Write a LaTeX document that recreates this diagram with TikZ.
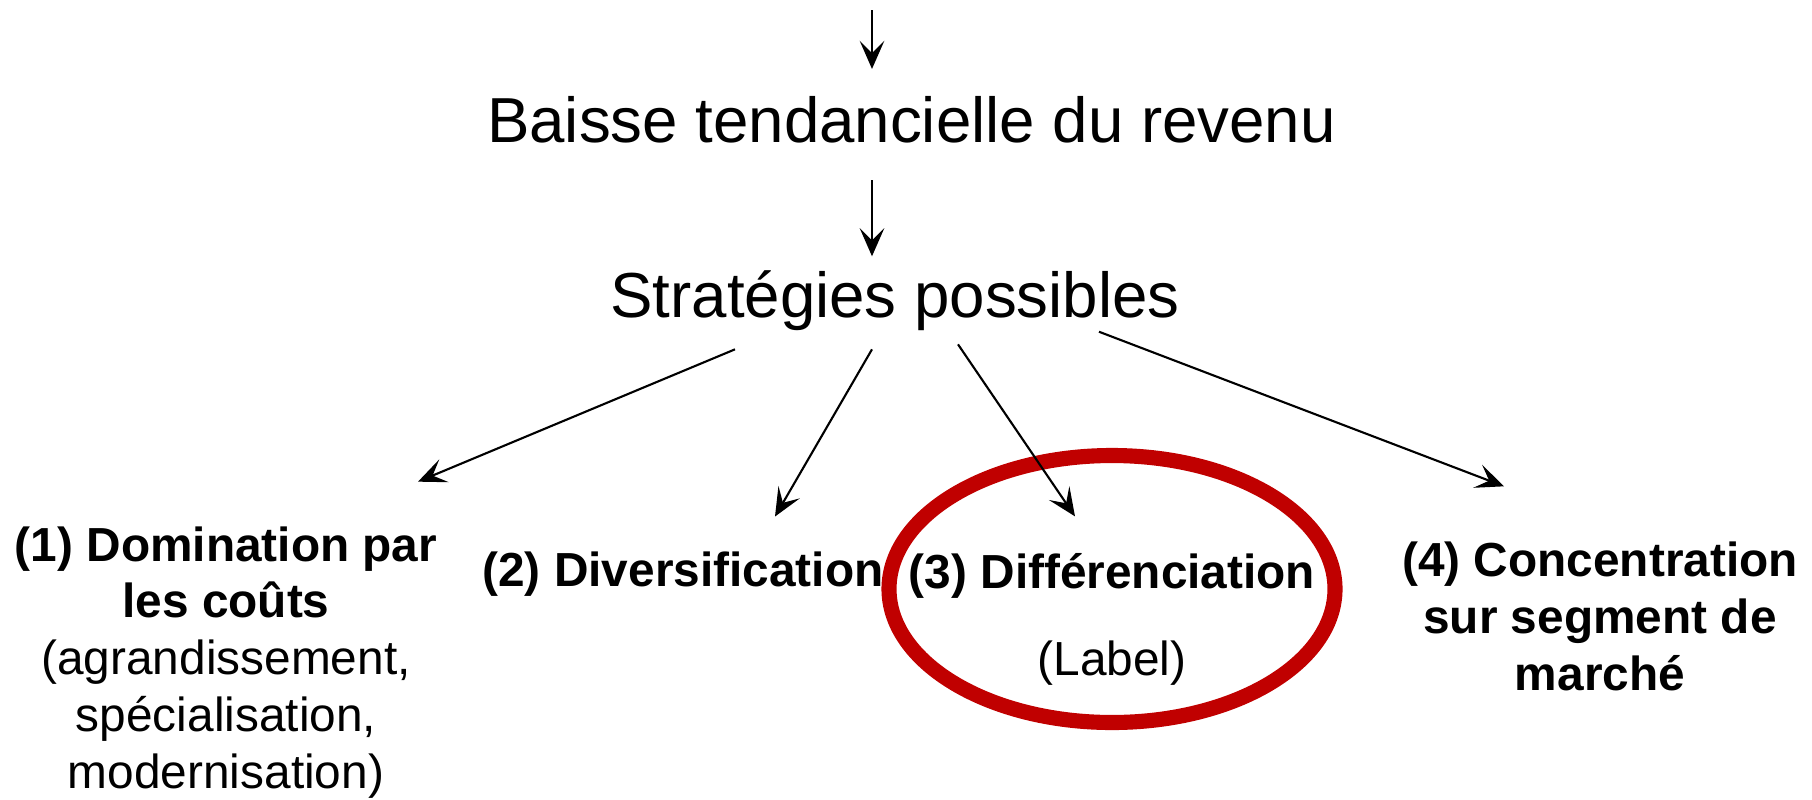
\documentclass[tikz,border=0pt]{standalone}
\usepackage{fontspec}
\setmainfont{Liberation Sans}
\usetikzlibrary{arrows.meta,positioning}
\definecolor{ringred}{RGB}{192,0,0}
\begin{document}
\begin{tikzpicture}[
  title/.style={inner sep=0pt, font=\fontsize{18.1}{21.7}\selectfont},
  choice/.style={inner sep=0pt, align=center, font=\fontsize{13.6}{16.2}\selectfont},
  arr/.style={-{Stealth[length=8pt,width=7pt,inset=3.5pt]}, line width=0.6pt},
  ring/.style={draw=ringred, line width=4.3pt},
  node distance=1.81cm
]
\useasboundingbox (0,0) rectangle (18.12,-7.99);

\node[title] (baisse) at (9.115,-1.20) {Baisse tendancielle du revenu};
\node[title, below of=baisse, xshift=-0.165cm] (strat) {Stratégies possibles};
\coordinate[above of=baisse, node distance=1.1cm, xshift=-0.395cm] (top);

\node[choice, below of=strat, node distance=2.735cm, xshift=-2.12cm] (div) {\textbf{(2) Diversification}};
\node[choice, left of=div, node distance=4.57cm, yshift=-0.88cm] (dom) {\textbf{(1) Domination par}\\\textbf{les coûts}\\(agrandissement,\\spécialisation,\\modernisation)};
\node[choice, right of=div, node distance=4.29cm, yshift=-0.445cm] (diff) {\textbf{(3) Différenciation}\\[0.3cm](Label)};
\node[choice, right of=diff, node distance=4.88cm, yshift=0.025cm] (conc) {\textbf{(4) Concentration}\\\textbf{sur segment de}\\\textbf{marché}};

% Highlight
\draw[ring] ([yshift=0.3cm]diff.center) ellipse [x radius=2.23cm, y radius=1.335cm];

% Arrows
\draw[arr, shorten >=0.27cm] (top) -- (top |- baisse.north);
\draw[arr, shorten <=0.36cm, shorten >=0.14cm] (top |- baisse.south) -- (top |- strat.north);
\draw[arr] ([xshift=-1.60cm,yshift=-0.176cm]strat.south) -- ([xshift=1.92cm,yshift=0.44cm]dom.north);
\draw[arr] ([xshift=-0.23cm,yshift=-0.176cm]strat.south) -- ([xshift=0.92cm,yshift=0.35cm]div.north);
\draw[arr] ([xshift=0.63cm,yshift=-0.126cm]strat.south) -- ([xshift=-0.37cm,yshift=0.36cm]diff.north);
\draw[arr] ([xshift=2.04cm]strat.south) -- ([xshift=-0.96cm,yshift=0.55cm]conc.north);
\end{tikzpicture}
\end{document}
